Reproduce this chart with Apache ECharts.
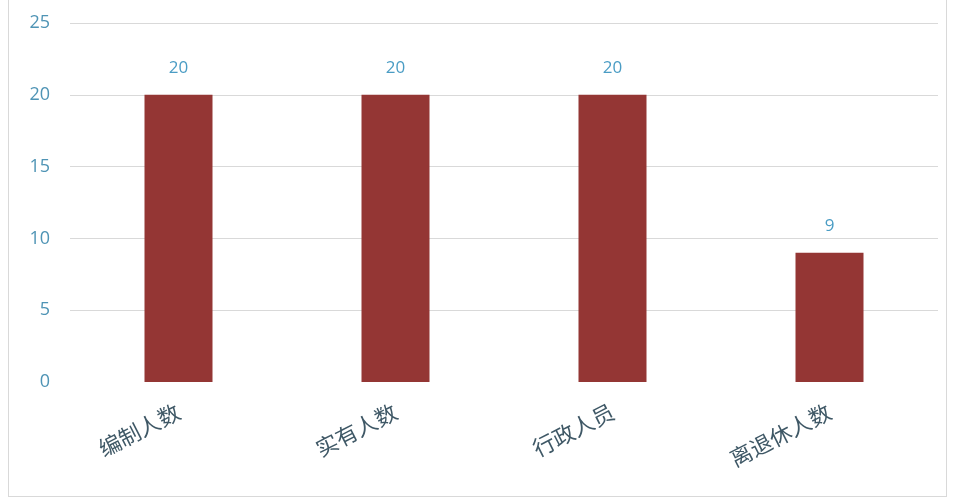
<!DOCTYPE html>
<html>
<head>
<meta charset="utf-8">
<script src="https://cdn.jsdelivr.net/npm/echarts@6/dist/echarts.min.js"></script>
<style>
html,body{margin:0;padding:0;background:#fff;}
#c{position:absolute;left:0;top:0;width:958px;height:499px;}
#b{position:absolute;left:8px;top:-2px;width:937px;height:497px;border:1px solid #d9d9d9;pointer-events:none;}
</style>
</head>
<body>
<div id="c"></div>
<div id="b"></div>
<script>
var categories = ['编制人数', '实有人数', '行政人员', '离退休人数'];
var values = [20, 20, 20, 9];
var yTicks = [0, 5, 10, 15, 20, 25];

var chart = echarts.init(document.getElementById('c'));
chart.setOption({
  animation: false,
  grid: {left: 70, right: 20, top: 23, bottom: 117},
  xAxis: {
    type: 'category',
    data: categories,
    axisLine: {show: false},
    axisTick: {show: false},
    axisLabel: {
      rotate: 27,
      margin: 28,
      color: '#3f5866',
      fontSize: 22,
      fontFamily: 'Noto Sans CJK SC'
    }
  },
  yAxis: {
    type: 'value',
    min: yTicks[0],
    max: yTicks[yTicks.length - 1],
    interval: 5,
    axisLine: {show: false},
    axisTick: {show: false},
    axisLabel: {
      margin: 20,
      color: '#4f94b5',
      fontSize: 18,
      fontFamily: 'Open Sans'
    },
    splitLine: {show: true, showMinLine: false, lineStyle: {color: '#d9d9d9', width: 1}}
  },
  series: [{
    type: 'bar',
    data: values,
    barWidth: 68,
    itemStyle: {color: '#943634'},
    label: {
      show: true,
      position: 'top',
      distance: 18,
      color: '#4a9cc4',
      fontSize: 17,
      fontFamily: 'Open Sans'
    }
  }]
});
</script>
</body>
</html>
